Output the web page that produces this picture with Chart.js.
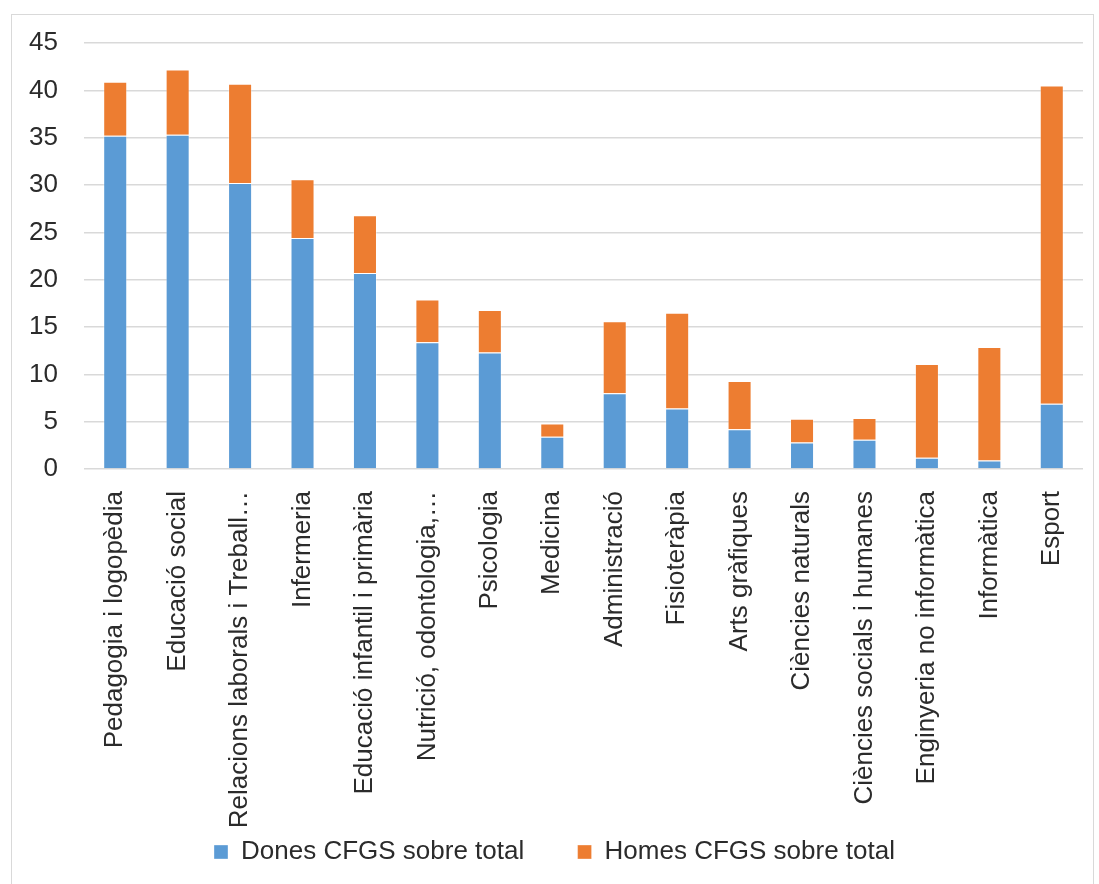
<!DOCTYPE html>
<html>
<head>
<meta charset="utf-8">
<script src="https://cdn.jsdelivr.net/npm/chart.js@4.4.1/dist/chart.umd.min.js"></script>
<style>
  html, body { margin: 0; padding: 0; background: #fff; }
  #wrap { position: relative; width: 1099px; height: 884px; }
  #frame { position: absolute; left: 11px; top: 14px; width: 1081px; height: 880px; border: 1px solid #d9d9d9; }
  canvas { position: absolute; left: 0; top: 0; }
</style>
</head>
<body>
<div id="wrap">
  <div id="frame"></div>
  <canvas id="myChart" width="1099" height="884"></canvas>
</div>
<script>
// data
const categories = [
  "Pedagogia i logopèdia", "Educació social", "Relacions laborals i Treball…", "Infermeria",
  "Educació infantil i primària", "Nutrició, odontologia,…", "Psicologia", "Medicina",
  "Administració", "Fisioteràpia", "Arts gràfiques", "Ciències naturals",
  "Ciències socials i humanes", "Enginyeria no informàtica", "Informàtica", "Esport"
];
const dones = [35.2, 35.3, 30.2, 24.4, 20.7, 13.4, 12.3, 3.4, 8.0, 6.4, 4.2, 2.8, 3.1, 1.2, 0.9, 6.9];
const homes = [5.7, 6.9, 10.5, 6.2, 6.1, 4.5, 4.5, 1.4, 7.6, 10.1, 5.1, 2.5, 2.3, 9.9, 12.0, 33.6];
const yTicks = [0, 5, 10, 15, 20, 25, 30, 35, 40, 45];

const fontFamily = "'Liberation Sans', Arial, sans-serif";
const textColor = "#2b2b2b";
const fontSize = 26;

const config = {
  type: "bar",
  data: {
    labels: categories,
    datasets: [
      {
        label: "Dones CFGS sobre total",
        data: dones,
        backgroundColor: "#5b9bd5",
        borderColor: "rgba(255,255,255,0.35)",
        borderWidth: 1,
        barPercentage: 0.385,
        categoryPercentage: 1,
      },
      {
        label: "Homes CFGS sobre total",
        data: homes,
        backgroundColor: "#ed7d31",
        borderColor: "rgba(255,255,255,0.35)",
        borderWidth: 1,
        barPercentage: 0.385,
        categoryPercentage: 1,
      },
    ],
  },
  options: {
    responsive: false,
    animation: false,
    layout: { padding: { top: 43, right: 16, bottom: 9, left: 26 } },
    scales: {
      x: {
        stacked: true,
        grid: { display: false },
        border: { display: false },
        ticks: {
          autoSkip: false,
          minRotation: 90,
          maxRotation: 90,
          padding: 14,
          color: textColor,
          font: { family: fontFamily, size: fontSize },
        },
        afterFit: (scale) => { scale.height = 360; },
      },
      y: {
        stacked: true,
        min: 0,
        max: 45,
        afterBuildTicks: (scale) => { scale.ticks = yTicks.map((v) => ({ value: v })); },
        grid: { color: "#d9d9d9", lineWidth: 1.5, drawTicks: false },
        border: { display: false },
        ticks: {
          padding: 26,
          color: textColor,
          font: { family: fontFamily, size: fontSize },
        },
        afterFit: (scale) => { scale.width = 58; },
      },
    },
    plugins: {
      legend: {
        position: "bottom",
        labels: {
          boxWidth: 14,
          boxHeight: 14,
          padding: 10,
          color: textColor,
          font: { family: fontFamily, size: fontSize },
          // wider gap between the two entries without making the legend taller
          generateLabels: (chart) => {
            const items = Chart.defaults.plugins.legend.labels.generateLabels(chart);
            items[0].text += "      ";
            return items;
          },
        },
      },
      tooltip: { enabled: false },
    },
  },
};

const myChart = new Chart(document.getElementById("myChart"), config);
</script>
</body>
</html>
